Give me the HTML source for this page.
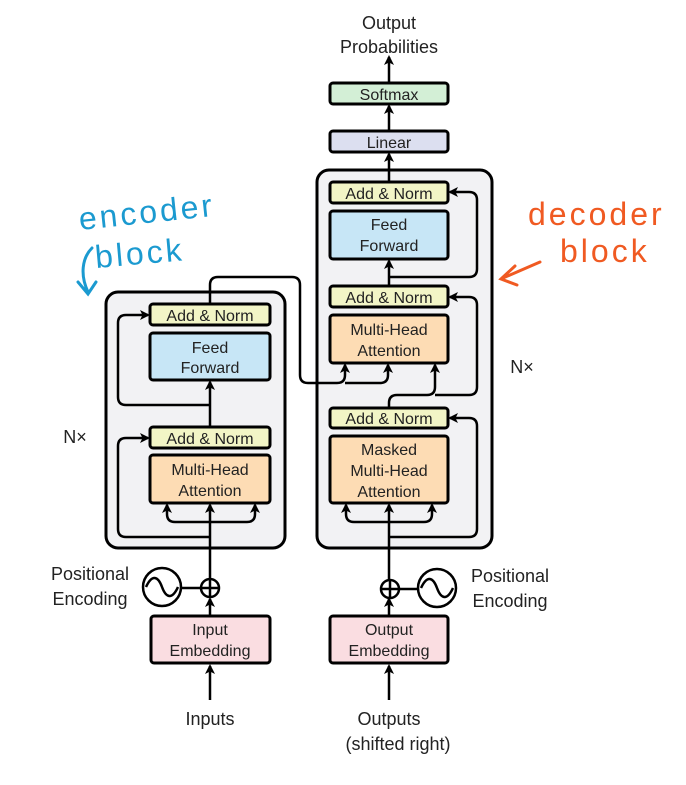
<!DOCTYPE html>
<html><head><meta charset="utf-8"><style>
html,body{margin:0;padding:0;background:#fff;}
svg{display:block;}
text{font-family:"Liberation Sans",sans-serif;fill:#222;}
</style></head><body>
<svg width="686" height="785" viewBox="0 0 686 785" xmlns="http://www.w3.org/2000/svg">
<defs>
<marker id="a" markerWidth="10" markerHeight="10" refX="8" refY="5" orient="auto" markerUnits="userSpaceOnUse">
<path d="M0,0 L10,5 L0,10 L2.5,5 Z" fill="#000"/>
</marker>
</defs>
<g stroke="#000" stroke-width="3" fill="none" stroke-linejoin="round">
<rect x="106" y="292" width="179" height="256" rx="12" fill="#f2f2f4"/>
<rect x="317" y="170" width="175" height="378" rx="12" fill="#f2f2f4"/>
</g>
<g stroke="#000" stroke-width="2.5" fill="none" marker-end="url(#a)">
<path d="M210,700 L210,666"/>
<path d="M210,616 L210,599"/>
<path d="M210,580 L210,505"/>
<path d="M210,522 L175,522 Q167,522 167,514 L167,505"/>
<path d="M210,522 L247,522 Q255,522 255,514 L255,505"/>
<path d="M210,537 L126,537 Q118,537 118,529 L118,446 Q118,438 126,438 L148,438"/>
<path d="M210,427 L210,382"/>
<path d="M210,405 L126,405 Q118,405 118,397 L118,323 Q118,315 126,315 L148,315"/>
<path d="M210,304 L210,285 Q210,277 218,277 L292,277 Q300,277 300,285 L300,375 Q300,383 308,383 L337,383 Q345,383 345,375 L345,365"/>
<path d="M345,383 L380,383 Q388,383 388,375 L388,365" />
<path d="M389,700 L389,666"/>
<path d="M389,616 L389,599"/>
<path d="M389,580 L389,505"/>
<path d="M389,522 L354,522 Q346,522 346,514 L346,505"/>
<path d="M389,522 L424,522 Q432,522 432,514 L432,505"/>
<path d="M389,537 L469,537 Q477,537 477,529 L477,426 Q477,418 469,418 L450,418"/>
<path d="M389,408 L389,403 Q389,395 397,395 L427,395 Q435,395 435,387 L435,365"/>
<path d="M435,395 L469,395 Q477,395 477,387 L477,305 Q477,297 469,297 L450,297"/>
<path d="M389,286 L389,261"/>
<path d="M389,277 L469,277 Q477,277 477,269 L477,200 Q477,192 469,192 L450,192"/>
<path d="M389,182 L389,154"/>
<path d="M389,130 L389,106"/>
<path d="M389,83 L389,57"/>
</g>
<g stroke="#000" stroke-width="3">
<rect x="150" y="304" width="120" height="21" rx="3" fill="#f2f5c6"/>
<rect x="150" y="333" width="120" height="47" rx="3" fill="#c7e6f6"/>
<rect x="150" y="427" width="120" height="21" rx="3" fill="#f2f5c6"/>
<rect x="150" y="455" width="120" height="48" rx="3" fill="#fddcb4"/>
<rect x="330" y="182" width="118" height="21" rx="3" fill="#f2f5c6"/>
<rect x="330" y="211" width="118" height="48" rx="3" fill="#c7e6f6"/>
<rect x="330" y="286" width="118" height="21" rx="3" fill="#f2f5c6"/>
<rect x="330" y="315" width="118" height="48" rx="3" fill="#fddcb4"/>
<rect x="330" y="408" width="118" height="20" rx="3" fill="#f2f5c6"/>
<rect x="330" y="436" width="118" height="67" rx="3" fill="#fddcb4"/>
<rect x="330" y="131" width="118" height="21" rx="3" fill="#dcdff0"/>
<rect x="330" y="83" width="118" height="21" rx="3" fill="#d3efd6"/>
<rect x="151" y="616" width="119" height="47" rx="3" fill="#fadde1"/>
<rect x="330" y="616" width="118" height="47" rx="3" fill="#fadde1"/>
</g>
<g stroke="#000" stroke-width="2.5" fill="#fff">
<line x1="181" y1="588" x2="201" y2="588"/>
<circle cx="210" cy="588" r="9"/>
<line x1="210" y1="579" x2="210" y2="597"/><line x1="201" y1="588" x2="219" y2="588"/>
<circle cx="162" cy="587" r="19"/>
<path d="M146,587 C152,574 158,576 162,587 C166,598 172,600 178,587" fill="none"/>
<line x1="399" y1="589" x2="418" y2="589"/>
<circle cx="390" cy="589" r="9"/>
<line x1="390" y1="580" x2="390" y2="598"/><line x1="381" y1="589" x2="399" y2="589"/>
<circle cx="437" cy="588" r="19"/>
<path d="M421,588 C427,575 433,577 437,588 C441,599 447,601 453,588" fill="none"/>
</g>
<g font-size="16" text-anchor="middle">
<text x="210" y="321">Add &amp; Norm</text>
<text x="210" y="353">Feed</text><text x="210" y="373">Forward</text>
<text x="210" y="444">Add &amp; Norm</text>
<text x="210" y="475">Multi-Head</text><text x="210" y="496">Attention</text>
<text x="389" y="199">Add &amp; Norm</text>
<text x="389" y="230">Feed</text><text x="389" y="251">Forward</text>
<text x="389" y="303">Add &amp; Norm</text>
<text x="389" y="335">Multi-Head</text><text x="389" y="356">Attention</text>
<text x="389" y="424">Add &amp; Norm</text>
<text x="389" y="455">Masked</text><text x="389" y="476">Multi-Head</text><text x="389" y="497">Attention</text>
<text x="389" y="148">Linear</text>
<text x="389" y="100">Softmax</text>
<text x="210" y="635">Input</text><text x="210" y="656">Embedding</text>
<text x="389" y="635">Output</text><text x="389" y="656">Embedding</text>
</g>
<g font-size="18" text-anchor="middle">
<text x="389" y="29">Output</text><text x="389" y="53">Probabilities</text>
<text x="210" y="725">Inputs</text>
<text x="389" y="725">Outputs</text><text x="398" y="750">(shifted right)</text>
<text x="90" y="580">Positional</text><text x="90" y="605">Encoding</text>
<text x="510" y="582">Positional</text><text x="510" y="607">Encoding</text>
<text x="75" y="443">N×</text>
<text x="522" y="373">N×</text>
</g>
<g font-family="'DejaVu Sans',sans-serif" font-size="32" letter-spacing="3">
<text x="80" y="230" style="fill:#1b9ad0" transform="rotate(-6 80 230)">encoder</text>
<text x="96" y="268" style="fill:#1b9ad0" transform="rotate(-5 96 268)">block</text>
<text x="528" y="225" style="fill:#f05a22">decoder</text>
<text x="560" y="262" style="fill:#f05a22">block</text>
</g>
<path d="M92,248 C82,258 80,275 88,292 M78,282 L88,294 L96,282" stroke="#1b9ad0" stroke-width="3" fill="none" stroke-linecap="round"/>
<path d="M540,262 L503,278 M515,266 L501,279 L517,285" stroke="#f05a22" stroke-width="3" fill="none" stroke-linecap="round"/>
</svg>
</body></html>
